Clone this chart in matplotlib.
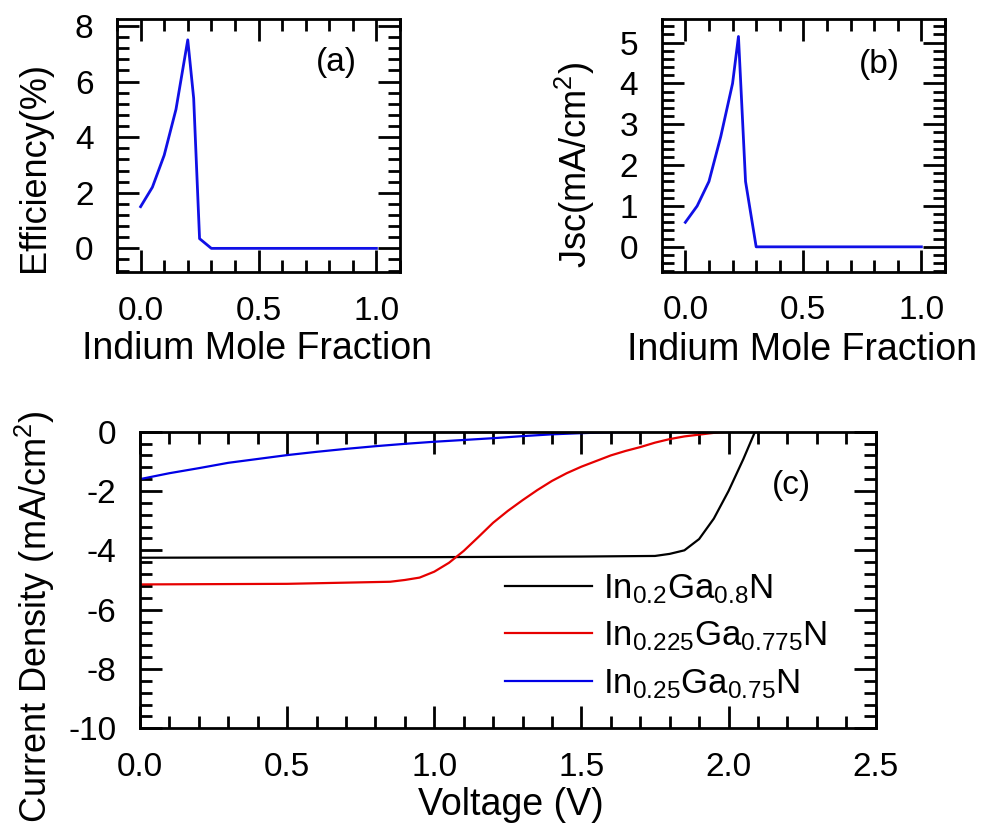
import numpy as np
import matplotlib
matplotlib.use("Agg")
import matplotlib.pyplot as plt
from matplotlib.ticker import MultipleLocator, FormatStrFormatter

# Data
# (a) efficiency vs indium mole fraction
frac_a = [0.0, 0.05, 0.1, 0.15, 0.2, 0.225, 0.25, 0.3, 0.4, 0.5, 0.6, 0.7, 0.8, 0.9, 1.0]
efficiency = [1.5, 2.2, 3.35, 5.0, 7.5, 5.4, 0.35, 0.0, 0.0, 0.0, 0.0, 0.0, 0.0, 0.0, 0.0]

# (b) short circuit current vs indium mole fraction
frac_b = [0.0, 0.05, 0.1, 0.15, 0.2, 0.225, 0.255, 0.3, 0.4, 0.5, 0.6, 0.7, 0.8, 0.9, 1.0]
jsc = [0.6, 1.0, 1.6, 2.7, 4.0, 5.15, 1.6, 0.0, 0.0, 0.0, 0.0, 0.0, 0.0, 0.0, 0.0]

# (c) J-V curves
v_black = [0.0, 0.5, 1.0, 1.5, 1.75, 1.8, 1.85, 1.9, 1.95, 2.0, 2.05, 2.09]
j_black = [-4.25, -4.24, -4.23, -4.21, -4.19, -4.12, -4.0, -3.62, -2.93, -2.0, -0.93, 0.0]

v_red = [0.0, 0.5, 0.85, 0.9, 0.95, 1.0, 1.05, 1.1, 1.15, 1.2, 1.25, 1.3, 1.35, 1.4,
         1.45, 1.5, 1.55, 1.6, 1.65, 1.7, 1.75, 1.8, 1.85, 1.9, 1.95, 2.0]
j_red = [-5.15, -5.13, -5.06, -5.0, -4.92, -4.72, -4.42, -4.02, -3.55, -3.07, -2.67,
         -2.31, -1.97, -1.66, -1.4, -1.18, -0.99, -0.8, -0.65, -0.52, -0.37, -0.25,
         -0.16, -0.1, -0.04, 0.0]

v_blue = [0.0, 0.1, 0.2, 0.3, 0.4, 0.5, 0.6, 0.7, 0.8, 0.9, 1.0, 1.1, 1.2, 1.3, 1.4,
          1.5, 1.6, 1.7, 1.75]
j_blue = [-1.6, -1.4, -1.23, -1.05, -0.92, -0.79, -0.68, -0.58, -0.49, -0.41, -0.34,
          -0.28, -0.22, -0.15, -0.09, -0.05, -0.02, -0.01, 0.0]

series_labels = [r'In$_{0.2}$Ga$_{0.8}$N',
                 r'In$_{0.225}$Ga$_{0.775}$N',
                 r'In$_{0.25}$Ga$_{0.75}$N']

plt.rcParams['font.family'] = ['Liberation Sans', 'DejaVu Sans']
plt.rcParams['mathtext.fontset'] = 'custom'
plt.rcParams['mathtext.rm'] = 'Liberation Sans'
plt.rcParams['mathtext.default'] = 'regular'
plt.rcParams['axes.unicode_minus'] = False
plt.rcParams['axes.linewidth'] = 2.0


def style_axes(ax, xmajor, xminor, ymajor, yminor):
    ax.xaxis.set_major_locator(MultipleLocator(xmajor))
    ax.xaxis.set_minor_locator(MultipleLocator(xminor))
    ax.yaxis.set_major_locator(MultipleLocator(ymajor))
    ax.yaxis.set_minor_locator(MultipleLocator(yminor))
    ax.tick_params(which='both', direction='in', top=True, right=True, width=2.0)
    ax.tick_params(which='major', length=16, pad=17, labelsize=24)
    ax.tick_params(which='minor', length=8.5)


fig = plt.figure(figsize=(9.96, 8.26), dpi=100)

# Panel (a)
ax_a = fig.add_axes([0.1175, 0.6707, 0.2841, 0.3063])
ax_a.plot(frac_a, efficiency, color='#1010e6', lw=2.0)
ax_a.set_xlim(-0.1, 1.1)
ax_a.set_ylim(-0.85, 8.25)
style_axes(ax_a, 0.5, 0.1, 2, 0.4)
ax_a.xaxis.set_major_formatter(FormatStrFormatter('%.1f'))
ax_a.set_xlabel('Indium Mole Fraction', fontsize=27, va='center')
ax_a.xaxis.set_label_coords(0.493, -0.304)
ax_a.set_ylabel('Efficiency(%)', fontsize=26, va='center')
ax_a.yaxis.set_label_coords(-0.293, 0.415)
ax_a.text(0.774, 0.83, '(a)', transform=ax_a.transAxes, fontsize=24,
          ha='center', va='center')

# Panel (b)
ax_b = fig.add_axes([0.6644, 0.671, 0.2844, 0.3056])
ax_b.plot(frac_b, jsc, color='#1010e6', lw=2.0)
ax_b.set_xlim(-0.1, 1.1)
ax_b.set_ylim(-0.61, 5.57)
style_axes(ax_b, 0.5, 0.1, 1, 0.2)
ax_b.xaxis.set_major_formatter(FormatStrFormatter('%.1f'))
ax_b.set_xlabel('Indium Mole Fraction', fontsize=27, va='center')
ax_b.xaxis.set_label_coords(0.494, -0.31)
ax_b.set_ylabel(r'Jsc(mA/cm$^2$)', fontsize=26, va='center')
ax_b.yaxis.set_label_coords(-0.306, 0.423)
ax_b.text(0.767, 0.82, '(b)', transform=ax_b.transAxes, fontsize=24,
          ha='center', va='center')

# Panel (c)
ax_c = fig.add_axes([0.1406, 0.1183, 0.7386, 0.3591])
ax_c.plot(v_black, j_black, color='black', lw=1.6, label=series_labels[0])
ax_c.plot(v_red, j_red, color='#e60000', lw=1.6, label=series_labels[1])
ax_c.plot(v_blue, j_blue, color='#0000e6', lw=1.6, label=series_labels[2])
ax_c.set_xlim(0, 2.5)
ax_c.set_ylim(-10, 0)
style_axes(ax_c, 0.5, 0.1, 2, 0.4)
ax_c.xaxis.set_major_formatter(FormatStrFormatter('%.1f'))
ax_c.set_xlabel('Voltage (V)', fontsize=27, va='center')
ax_c.xaxis.set_label_coords(0.504, -0.26)
ax_c.set_ylabel(r'Current Density (mA/cm$^2$)', fontsize=26, va='center')
ax_c.yaxis.set_label_coords(-0.143, 0.375)
ax_c.text(0.885, 0.817, '(c)', transform=ax_c.transAxes, fontsize=24,
          ha='center', va='center')
ax_c.legend(loc='center left', bbox_to_anchor=(0.496, 0.31), frameon=False,
            fontsize=25, borderpad=0, borderaxespad=0, handlelength=2.5,
            handletextpad=0.33, labelspacing=0.4)

fig.savefig('out.png', dpi=100)
